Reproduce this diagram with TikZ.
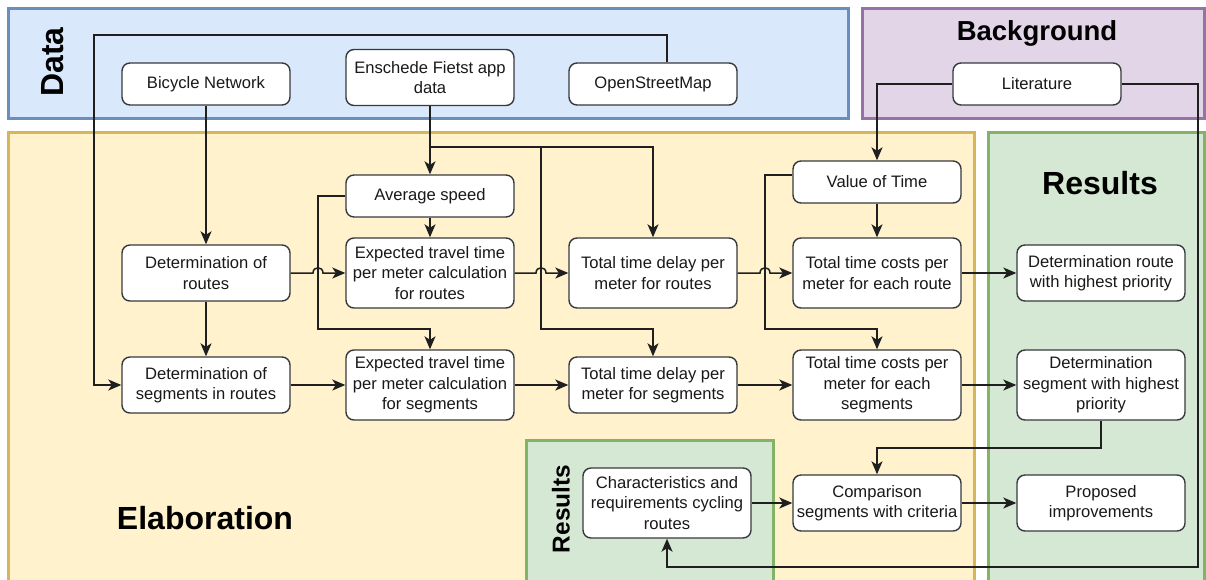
\documentclass[tikz,border=0pt]{standalone}
\usepackage{fontspec}
\setmainfont{Liberation Sans}
\usetikzlibrary{arrows.meta,calc}
\definecolor{bluefill}{HTML}{DAE8FC}\definecolor{bluedraw}{HTML}{6C8EBF}
\definecolor{purpfill}{HTML}{E1D5E7}\definecolor{purpdraw}{HTML}{9673A6}
\definecolor{yelfill}{HTML}{FFF2CC}\definecolor{yeldraw}{HTML}{D6B656}
\definecolor{grnfill}{HTML}{D5E8D4}\definecolor{grndraw}{HTML}{82B366}
\definecolor{edgecol}{HTML}{1F1F1F}
\definecolor{boxcol}{HTML}{36393D}
\tikzset{
  region/.style={line width=3pt},
  box/.style={draw=boxcol, line width=1.4pt, fill=white, rounded corners=8pt,
    minimum width=168pt, inner sep=0pt, align=center,
    font=\fontsize{16.6}{20.5}\selectfont, text=black!90},
  h1/.style={minimum height=42pt},
  h2/.style={minimum height=56pt},
  h3/.style={minimum height=70pt},
  arr/.style={draw=edgecol, line width=1.5pt, -{Stealth[length=13pt,width=11pt,inset=3.5pt]}},
  ttl/.style={font=\fontsize{32}{36}\selectfont\bfseries},
}
\begin{document}
\begin{tikzpicture}[x=1pt,y=-1pt]
\useasboundingbox (0,0) rectangle (1206,579);
\begin{scope}
\clip (0,0) rectangle (1206,579);
% regions
\draw[region, fill=bluefill, draw=bluedraw] (8,8) rectangle (848,118);
\draw[region, fill=purpfill, draw=purpdraw] (862,8) rectangle (1204.5,118);
\draw[region, fill=yelfill, draw=yeldraw] (8,132) rectangle (974,585);
\draw[region, fill=grnfill, draw=grndraw] (988,132) rectangle (1204.5,585);
\draw[region, fill=grnfill, draw=grndraw] (526,440) rectangle (773,585);
\end{scope}
% titles
\node[ttl, rotate=90] (tdata) at (53,62) {Data};
\node[font=\fontsize{27.5}{32}\selectfont\bfseries] (tback) at (1037,33) {Background};
\node[ttl] (telab) at (205,518) {Elaboration};
\node[ttl] (tres) at (1100,183) {Results};
\node[font=\fontsize{24.4}{28}\selectfont\bfseries, rotate=90] (tres2) at (561,509) {Results};
% nodes
\node[box,h1] (bn)  at (206,84)  {Bicycle Network};
\node[box,h2] (efa) at (430,77.5) {Enschede Fietst app\\data};
\node[box,h1] (osm) at (653,84)  {OpenStreetMap};
\node[box,h1] (lit) at (1037,84) {Literature};
\node[box,h1] (avg) at (430,196) {Average speed};
\node[box,h1] (vot) at (877,182) {Value of Time};
\node[box,h2] (dr)  at (206,273) {Determination of\\routes};
\node[box,h3] (etr) at (430,273) {Expected travel time\\per meter calculation\\for routes};
\node[box,h3] (tdr) at (653,273) {Total time delay per\\meter for routes};
\node[box,h3] (tcr) at (877,273) {Total time costs per\\meter for each route};
\node[box,h2] (dhr) at (1101,273) {Determination route\\with highest priority};
\node[box,h2] (ds)  at (206,385) {Determination of\\segments in routes};
\node[box,h3] (ets) at (430,385) {Expected travel time\\per meter calculation\\for segments};
\node[box,h2] (tds) at (653,385) {Total time delay per\\meter for segments};
\node[box,h3] (tcs) at (877,385) {Total time costs per\\meter for each\\segments};
\node[box,h3] (dhs) at (1101,385) {Determination\\segment with highest\\priority};
\node[box,h3] (chr) at (667,503) {Characteristics and\\requirements cycling\\routes};
\node[box,h2] (cmp) at (877,503) {Comparison\\segments with criteria};
\node[box,h2] (prop) at (1101,503) {Proposed\\improvements};
% connectors
\draw[arr] ([xshift=14pt]osm.north) |- (94,35) |- (ds.west);
\draw[arr] (bn.south) -- (dr.north);
\draw[arr] (dr.south) -- (ds.north);
\draw[arr] (efa.south) -- (avg.north);
\draw[arr] (efa.south) |- (653,147) -- (tdr.north);
\draw[arr] (efa.south) |- (541,147) |- (tds.north |- 0,329) -- (tds.north);
\draw[arr] (avg.west) -| (318,329) -| (ets.north);
\draw[arr] (avg.south) -- (etr.north);
\draw[arr] ([yshift=7pt]vot.west) -| (765,329) -| (tcs.north);
\draw[arr] (vot.south) -- (tcr.north);
\draw[arr] (lit.west) -| (vot.north);
\draw[arr] (lit.east) -| (1198,567) -| (chr.south);
\draw[arr] (dhs.south) |- (cmp.north |- 0,448) -- (cmp.north);
% horizontal with jumps
\draw[arr] (dr.east) -- (313,273) .. controls (313,266) and (323,266) .. (323,273) -- (etr.west);
\draw[arr] (etr.east) -- (536,273) .. controls (536,266) and (546,266) .. (546,273) -- (tdr.west);
\draw[arr] (tdr.east) -- (760,273) .. controls (760,266) and (770,266) .. (770,273) -- (tcr.west);
\draw[arr] (tcr.east) -- (dhr.west);
\draw[arr] (ds.east) -- (ets.west);
\draw[arr] (ets.east) -- (tds.west);
\draw[arr] (tds.east) -- (tcs.west);
\draw[arr] (tcs.east) -- (dhs.west);
\draw[arr] (chr.east) -- (cmp.west);
\draw[arr] (cmp.east) -- (prop.west);
\end{tikzpicture}
\end{document}
